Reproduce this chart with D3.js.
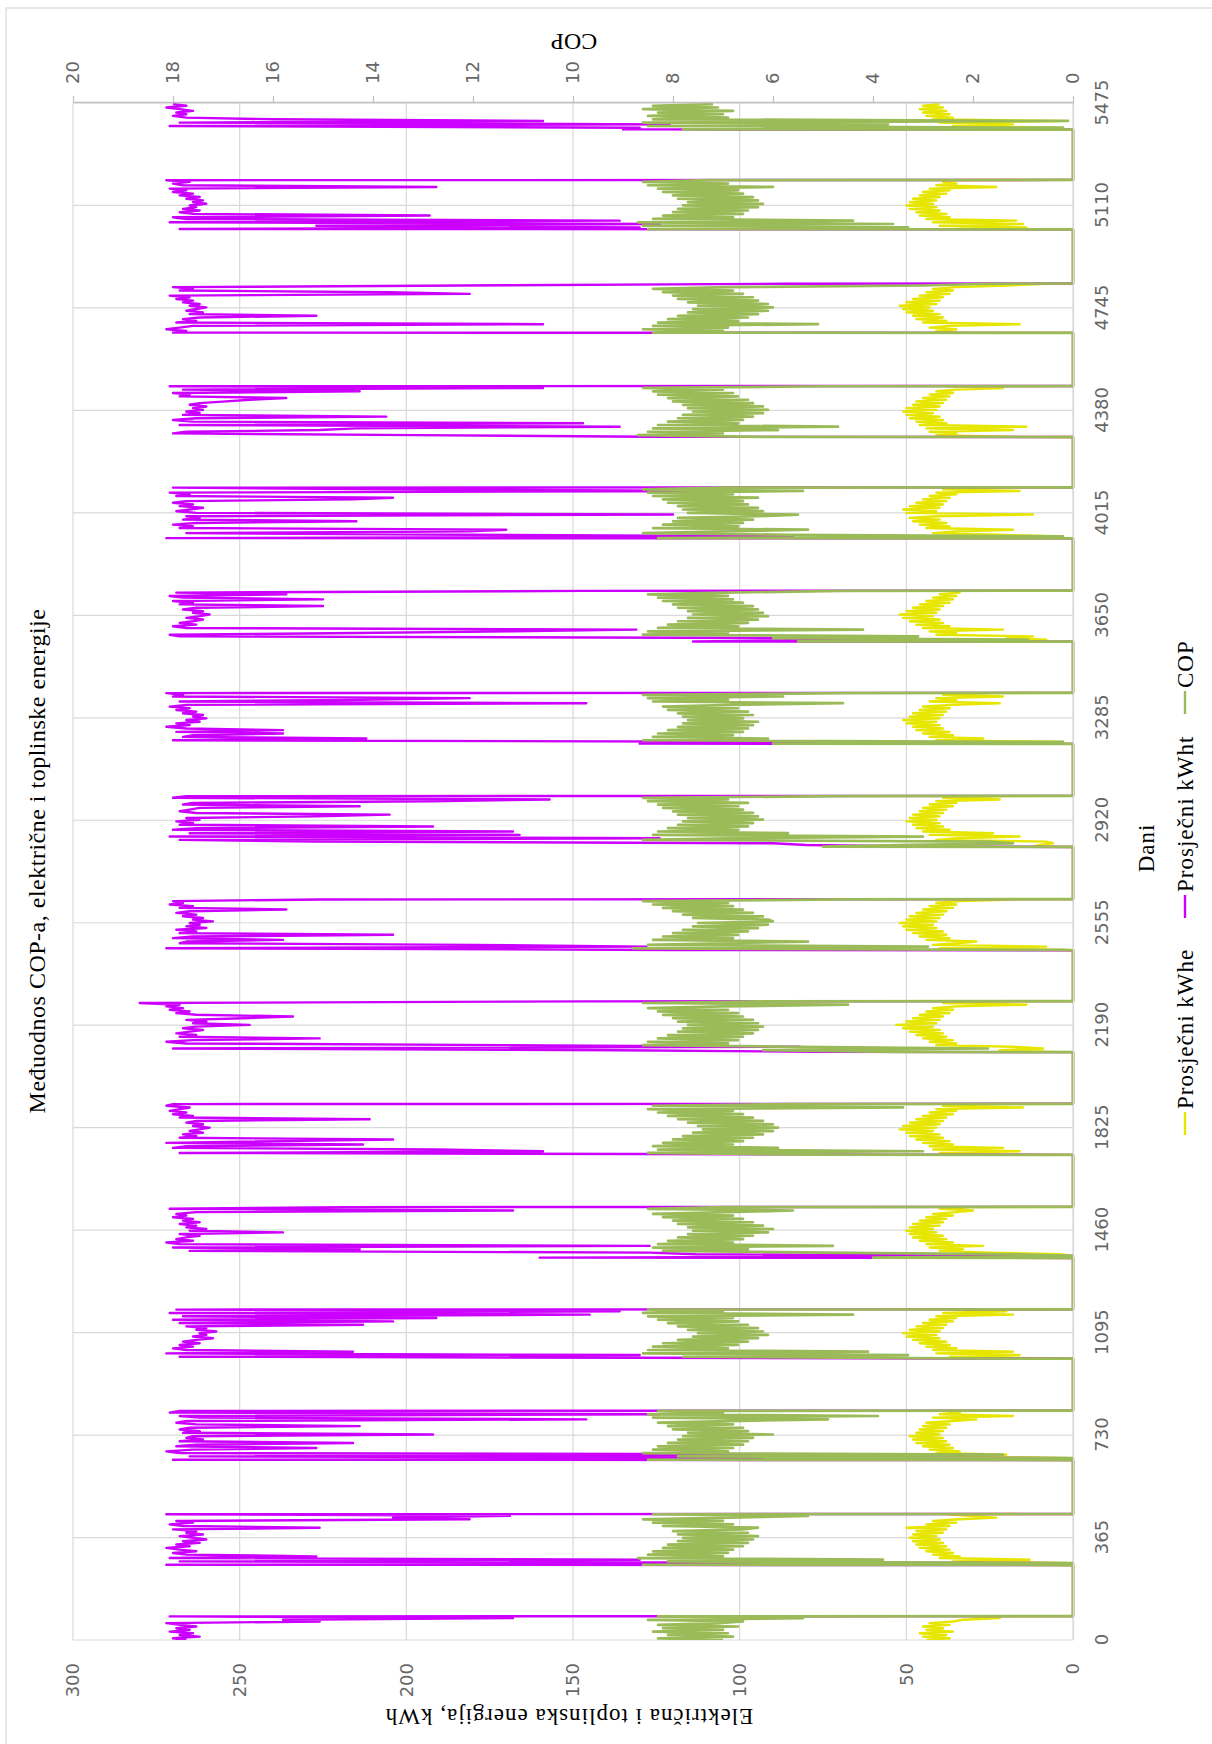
<!DOCTYPE html>
<html><head><meta charset="utf-8">
<script src="https://cdn.jsdelivr.net/npm/d3@7"></script>
<style>body{margin:0;background:#fff}</style>
</head><body>
<svg id="c" width="1212" height="1744"></svg>
<script>
// ---- data ----
const seasonStart = [0, 268, 642, 1003, 1362, 1729, 2095, 2458, 2826, 3193, 3557, 3925, 4286, 4657, 5026, 5381];
const sampleStep = 6; // days between readings inside a heating season
const dayTicks = [0,365,730,1095,1460,1825,2190,2555,2920,3285,3650,4015,4380,4745,5110,5475];
const energyTicks = [0,50,100,150,200,250,300];
const copTicks = [0,2,4,6,8,10,12,14,16,18,20];
const seriesNames = ["Prosječni kWhe","Prosječni kWht","COP"];

const kwht = [
[266,270,262,268,264,271,265,269,263,268,272,226,237,168,271],
[272,0,268,130,271,227,266,270,263,268,272,265,269,262,267,260,264,268,261,266,263,270,226,267,271,264,269,181,204,169,272],
[270,0,265,27,268,272,264,227,269,263,216,268,261,266,264,192,267,262,268,265,214,263,269,266,146,262,268,124,271,268],
[34,268,130,272,216,266,270,264,268,262,267,263,258,264,260,262,257,263,260,266,213,268,204,270,191,267,145,271,136,269],
[160,0,113,127,265,214,270,127,268,272,264,269,266,262,268,237,265,260,266,263,268,262,267,264,270,266,269,263,168,271,218],
[54,268,159,191,270,266,213,272,237,204,268,263,267,261,265,262,259,264,261,266,263,211,268,264,270,266,271,268,265,272,270],
[77,136,270,82,171,266,272,264,226,268,263,269,265,261,267,263,247,264,260,266,249,234,263,269,265,271,267,272,268,280,146],
[120,272,128,180,268,266,237,270,264,204,268,263,269,260,266,262,265,258,264,261,267,263,269,265,236,268,264,271,267,270,226],
[40,80,90,227,268,124,271,166,265,168,270,263,192,268,264,269,262,266,227,205,263,268,265,262,214,267,264,193,157,270,266],
[130,71,270,212,267,264,237,269,237,266,272,265,269,262,266,260,264,261,267,263,269,265,271,266,146,268,214,181,270,267,272],
[114,59,89,268,271,215,168,131,266,270,263,268,264,261,266,262,259,264,261,267,263,225,268,264,270,225,267,271,236,269,147],
[272,84,181,266,181,170,268,264,270,263,215,267,262,266,120,263,269,265,261,268,264,270,266,216,204,269,265,271,98,207,270],
[128,197,270,266,226,215,136,268,147,264,270,263,206,267,262,266,261,264,260,265,262,254,247,236,268,265,270,214,267,159,271],
[270,266,272,268,264,159,269,263,267,262,227,265,261,266,263,260,265,262,267,264,269,265,271,181,205,268,264,270,183,87],
[268,130,227,124,271,136,266,270,193,264,268,262,267,263,265,260,264,261,266,262,268,264,270,266,271,191,267,270,265,272],
[135,130,271,121,268,159,240,266,270,266,269,264,268,272,266,270]
];

const cop = [
[7.0,8.3,6.8,8.1,6.9,8.4,7.0,8.2,6.7,8.3,7.1,6.6,8.5,5.4,8.3],
[8.6,0,8.1,3.8,8.7,7.0,8.5,6.9,8.4,6.8,8.2,6.6,8.1,6.5,7.9,6.4,7.8,6.3,7.9,6.5,8.0,6.6,6.3,8.2,6.8,8.4,7.0,8.6,6.9,5.3,8.4],
[8.5,0,7.9,1.4,8.6,6.9,8.4,6.8,8.3,6.6,8.1,6.5,7.9,6.4,7.8,6.0,7.7,6.5,8.0,6.6,8.1,6.8,8.3,6.9,4.9,8.4,3.9,8.5,7.0,8.3],
[2.3,7.8,3.3,8.6,4.1,8.5,6.9,8.4,6.7,8.2,6.5,7.9,6.3,7.6,6.1,7.5,6.2,7.7,6.3,7.9,6.5,8.1,6.7,8.3,6.8,8.5,4.4,8.6,7.0,8.5],
[4.0,0,1.1,5.0,8.2,6.5,8.4,4.8,8.3,6.8,8.1,6.6,7.9,6.4,7.7,6.1,7.6,6.0,7.7,6.2,7.9,6.4,8.0,6.6,8.2,6.8,8.4,6.9,5.6,8.5,7.0],
[5.3,8.5,3.0,8.3,5.9,8.4,6.8,8.2,6.6,8.0,6.4,7.8,6.2,7.6,6.0,7.4,5.9,7.5,6.0,7.7,6.2,7.9,6.4,8.1,6.6,8.3,6.8,8.5,3.4,8.4,5.7],
[3.5,6.2,1.7,5.5,8.6,6.9,8.5,6.7,8.3,6.6,8.1,6.4,7.9,6.3,7.8,6.2,7.7,6.3,7.9,6.4,8.0,6.6,8.2,6.7,8.3,6.9,8.5,7.0,4.5,8.6,6.3],
[0.2,8.8,2.9,8.5,7.0,5.3,8.4,6.8,8.2,6.7,8.0,6.5,7.8,6.3,7.6,6.1,7.5,6.0,6.1,7.6,6.2,7.8,6.4,8.0,6.6,8.2,6.8,8.4,6.9,8.6,4.6],
[5.0,3.2,1.2,1.7,8.6,6.9,3.0,8.4,5.7,8.3,6.7,8.1,6.5,7.9,6.4,7.8,6.2,7.7,6.3,7.9,6.4,8.0,6.6,8.2,6.7,8.3,6.5,8.5,6.9,8.6,4.7],
[6.0,0.2,8.6,6.1,8.4,6.8,8.3,6.6,8.1,6.5,7.9,6.4,7.8,6.3,7.7,6.6,7.8,6.4,7.9,6.5,8.1,6.7,8.2,6.8,4.6,8.4,6.9,8.5,5.8,8.6,4.6],
[5.5,0.9,6.0,3.1,8.6,6.9,8.5,4.2,8.3,6.7,8.1,6.5,7.9,6.3,7.7,6.1,7.6,6.2,7.7,6.3,7.9,6.4,8.0,6.6,8.2,6.8,8.3,6.9,8.5,7.0,4.6],
[8.3,0.2,5.7,8.6,6.9,5.3,8.4,6.7,8.2,6.6,8.0,6.4,7.9,6.3,5.5,7.7,6.2,7.8,6.3,7.9,6.5,8.1,6.6,8.2,6.3,8.4,6.8,8.5,5.4,8.6,7.0],
[6.2,8.7,7.0,8.5,5.9,8.4,4.7,8.3,6.7,8.1,6.6,7.9,6.4,7.8,6.2,7.6,6.1,7.7,6.2,7.8,6.4,8.0,6.5,8.1,6.7,8.3,6.8,8.4,7.0,8.6,4.9],
[8.4,7.0,8.6,6.9,8.4,5.1,8.3,6.7,8.1,6.5,7.9,6.3,7.7,6.1,7.6,6.0,7.5,6.1,7.7,6.3,7.9,6.4,8.0,6.6,8.2,6.8,8.4,6.9,3.0,1.8],
[8.5,3.3,8.6,3.6,8.7,4.4,8.4,6.8,8.2,6.6,8.0,6.5,7.9,6.3,7.8,6.2,7.7,6.3,7.9,6.4,8.0,6.6,8.2,6.7,8.3,6.0,8.5,6.9,8.6,7.3],
[7.8,0.2,8.5,3.7,8.6,0.1,8.4,6.9,8.5,7.0,8.3,6.8,8.6,7.1,8.4,7.2]
];

const kwhe = [
[44,37,45,38,46,36,44,39,45,37,43,36,33,22,30],
[30,0,36,13,40,34,42,36,44,37,46,38,47,39,48,40,49,41,48,39,47,38,50,37,44,35,42,34,23,31,38],
[32,0,37,20,41,34,43,36,45,37,47,38,48,39,49,40,47,39,46,38,45,37,44,36,29,42,18,40,34,38],
[8,37,16,41,18,42,35,44,37,46,38,48,40,50,41,51,40,49,39,47,38,45,36,43,35,41,18,39,20,36],
[30,0,4,25,40,33,43,27,44,36,46,38,48,39,49,41,50,42,49,40,48,39,46,38,44,36,42,35,30,40,31],
[22,40,16,42,21,43,36,45,37,47,39,49,40,50,42,52,41,51,40,49,39,47,38,45,36,43,35,41,15,39,28],
[6,22,9,18,41,35,43,36,45,38,47,39,49,40,51,42,53,41,50,40,48,39,46,37,44,36,42,35,14,39,30],
[3,40,8,42,35,29,44,37,46,38,48,39,50,41,51,42,52,41,50,40,49,39,47,38,45,36,43,35,41,34,18],
[12,10,6,8,41,35,16,43,24,45,37,47,39,48,40,50,41,49,40,48,39,46,38,45,36,43,35,41,22,39,20],
[20,3,41,27,43,36,45,37,47,39,48,40,50,41,51,40,49,39,48,38,46,37,45,36,22,43,35,41,21,39,24],
[24,8,20,12,41,35,43,21,45,37,47,39,49,40,51,42,52,41,50,40,48,39,46,37,44,36,42,35,40,34,34],
[36,4,23,42,35,18,44,37,46,38,48,40,49,41,12,50,41,51,40,49,39,47,38,45,37,43,35,41,16,39,35],
[20,41,35,43,18,44,14,46,38,47,39,49,40,50,42,51,41,50,40,48,39,47,38,45,37,43,36,41,35,21,38],
[34,41,35,43,37,16,45,38,47,39,48,40,50,42,51,43,52,41,50,40,48,39,46,37,44,36,42,35,20,8],
[34,14,40,15,42,17,44,37,46,38,47,40,49,41,50,42,49,41,48,40,46,38,45,37,43,23,41,35,39,36],
[30,5,36,18,40,4,42,36,44,37,45,38,46,39,45,40]
];

// ---- build point lists: zero outside the heating seasons ----
function buildSeries(seasons){
  const pts = [];
  seasons.forEach((arr,k)=>{
    const s = seasonStart[k];
    if (s > 0) pts.push([s-1, 0]);
    arr.forEach((v,i)=>pts.push([s + i*sampleStep, v]));
    if (k < seasons.length-1) pts.push([s + (arr.length-1)*sampleStep + 1, 0]);
  });
  return pts;
}

// ---- drawing (chart drawn unrotated, then turned 90° counter-clockwise) ----
const W = 1744, H = 1212;
const svg = d3.select('#c');
svg.append('rect').attr('width',1212).attr('height',1744).attr('fill','#fff');
const g = svg.append('g').attr('transform',`translate(0,${W}) rotate(-90)`);

g.append('rect').attr('x',-6).attr('y',6).attr('width',1742).attr('height',1230)
  .attr('fill','none').attr('stroke','#d9d9d9').attr('stroke-width',1.2);

const x = d3.scaleLinear().domain([0,5475]).range([104,1641]);
const yE = d3.scaleLinear().domain([0,300]).range([1073,73]);
const yC = d3.scaleLinear().domain([0,20]).range([1073,73]);

const grid = g.append('g');
grid.selectAll('.hg').data(energyTicks).join('line')
  .attr('x1',x(0)).attr('x2',x(5475)).attr('y1',d=>yE(d)).attr('y2',d=>yE(d))
  .attr('stroke','#d9d9d9').attr('stroke-width',1.2);
grid.selectAll('.vg').data(dayTicks).join('line')
  .attr('x1',d=>x(d)).attr('x2',d=>x(d)).attr('y1',yE(300)).attr('y2',yE(0))
  .attr('stroke','#d9d9d9').attr('stroke-width',1.2);

g.append('clipPath').attr('id','pc').append('rect')
  .attr('x',x(0)).attr('y',50).attr('width',x(5475)-x(0)).attr('height',1035);

const plot = g.append('g').attr('clip-path','url(#pc)');
const colors = ['#E6E600','#CC00FF','#9BBB59'];
const series = [
  {pts: buildSeries(kwhe), y: yE, c: colors[0], w: 2.4},
  {pts: buildSeries(kwht), y: yE, c: colors[1], w: 2.4},
  {pts: buildSeries(cop),  y: yC, c: colors[2], w: 2.7}
];
series.forEach(s=>{
  const line = d3.line().x(d=>x(d[0])).y(d=>s.y(d[1]));
  plot.append('path').attr('d',line(s.pts)).attr('fill','none')
    .attr('stroke',s.c).attr('stroke-width',s.w).attr('stroke-linejoin','round');
});

const tickFont = g => g.selectAll('text').attr('font-family','DejaVu Sans, sans-serif')
  .attr('font-size',18).attr('fill','#666');

const axL = g.append('g').attr('transform',`translate(${x(0)},0)`)
  .call(d3.axisLeft(yE).tickValues(energyTicks).tickSize(0).tickPadding(23));
axL.select('.domain').remove(); tickFont(axL);

const axR = g.append('g').attr('transform',`translate(${x(5475)},0)`)
  .call(d3.axisRight(yC).tickValues(copTicks).tickSize(7).tickSizeOuter(0).tickPadding(12));
axR.select('.domain').attr('stroke','#bfbfbf').attr('stroke-width',1.5);
axR.selectAll('.tick line').attr('stroke','#bfbfbf').attr('stroke-width',1.2);
tickFont(axR);

const axB = g.append('g').attr('transform',`translate(0,${yE(0)})`)
  .call(d3.axisBottom(x).tickValues(dayTicks).tickSize(0).tickPadding(22).tickFormat(d3.format('d')));
axB.select('.domain').attr('stroke','#d9d9d9').attr('stroke-width',1.2);
tickFont(axB);

const serif = 'Liberation Serif, Times New Roman, serif';
g.append('text').attr('x',883).attr('y',37).attr('dy','0.35em').attr('text-anchor','middle')
  .attr('font-family',serif).attr('font-size',24).attr('letter-spacing',0.5).attr('fill','#000')
  .text('Međuodnos COP-a, električne i toplinske energije');

g.append('text').attr('transform','translate(27,569) rotate(-90)').attr('dy','0.35em')
  .attr('text-anchor','middle').attr('font-family',serif).attr('font-size',23)
  .attr('letter-spacing',1).attr('fill','#000')
  .text('Električna i toplinska energija, kWh');

g.append('text').attr('transform','translate(1702,574) rotate(-90)').attr('dy','0.35em')
  .attr('text-anchor','middle').attr('font-family',serif).attr('font-size',24).attr('fill','#000')
  .text('COP');

g.append('text').attr('x',896).attr('y',1146).attr('dy','0.35em').attr('text-anchor','middle')
  .attr('font-family',serif).attr('font-size',23).attr('letter-spacing',1).attr('fill','#000').text('Dani');

const legendPos = [609, 826, 1030];
const lg = g.append('g');
seriesNames.forEach((n,i)=>{
  lg.append('line').attr('x1',legendPos[i]).attr('x2',legendPos[i]+23)
    .attr('y1',1185).attr('y2',1185).attr('stroke',colors[i]).attr('stroke-width',2.4);
  lg.append('text').attr('x',legendPos[i]+26).attr('y',1185).attr('dy','0.35em')
    .attr('font-family',serif).attr('font-size',23).attr('letter-spacing',1).attr('fill','#000').text(n);
});
</script>
</body></html>
